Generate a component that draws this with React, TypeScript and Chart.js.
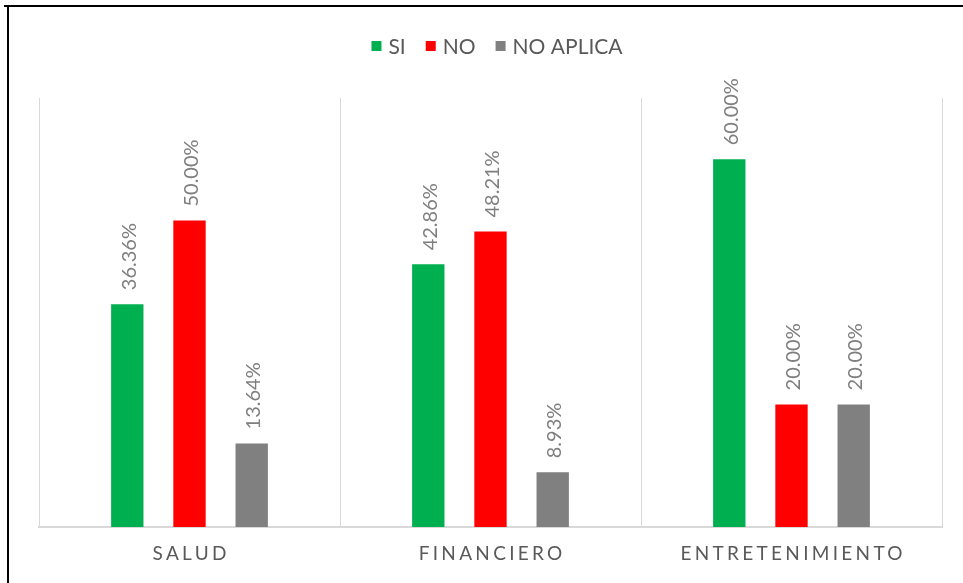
import React, { useEffect, useRef } from "react";
import { Chart, registerables } from "chart.js";

Chart.register(...registerables);

const categories = ["SALUD", "FINANCIERO", "ENTRETENIMIENTO"];
const seriesNames = ["SI", "NO", "NO APLICA"];
const siValues = [36.36, 42.86, 60.0];
const noValues = [50.0, 48.21, 20.0];
const naValues = [13.64, 8.93, 20.0];
const seriesColors = ["#00B050", "#FF0000", "#808080"];
const yMax = 70;

const FONT = "Lato, 'Open Sans', sans-serif";

const decorPlugin = {
  id: "decor",
  afterDraw(chart: any) {
    const ctx = chart.ctx as CanvasRenderingContext2D;
    const area = chart.chartArea;
    ctx.save();
    // outer border (top and left only)
    ctx.fillStyle = "#000000";
    ctx.fillRect(4, 5, 963, 2);
    ctx.fillRect(7, 5, 2, 583);

    // data labels (rotated)
    ctx.font = `20px ${FONT}`;
    ctx.fillStyle = "#7F7F7F";
    chart.data.datasets.forEach((ds: any, di: number) => {
      const meta = chart.getDatasetMeta(di);
      meta.data.forEach((bar: any, i: number) => {
        const v = ds.data[i];
        const txt = v.toFixed(2) + "%";
        ctx.save();
        ctx.translate(bar.x + 1, bar.y - 14);
        ctx.rotate(-Math.PI / 2);
        ctx.textAlign = "left";
        ctx.textBaseline = "middle";
        ctx.fillText(txt, 0, 1);
        ctx.restore();
      });
    });

    // category labels with letter spacing
    const xScale = chart.scales.x;
    const ls = 3.3;
    ctx.font = `19px ${FONT}`;
    ctx.fillStyle = "#595959";
    (ctx as any).letterSpacing = `${ls}px`;
    ctx.textAlign = "left";
    ctx.textBaseline = "middle";
    categories.forEach((c, i) => {
      const cx = xScale.getPixelForValue(i);
      const w = ctx.measureText(c).width - ls;
      ctx.fillText(c, cx - w / 2, area.bottom + 27);
    });
    (ctx as any).letterSpacing = "0px";

    // legend
    ctx.font = `21px ${FONT}`;
    const box = 10;
    const gapBT = 7;
    const gapItems = 20;
    const widths = seriesNames.map((n) => ctx.measureText(n).width);
    const total = widths.reduce((a, b) => a + box + gapBT + b, 0) + gapItems * (seriesNames.length - 1);
    let x = 497 - total / 2;
    const ly = 46;
    seriesNames.forEach((n, i) => {
      ctx.fillStyle = seriesColors[i];
      ctx.fillRect(x, ly - box / 2, box, box);
      x += box + gapBT;
      ctx.fillStyle = "#595959";
      ctx.textBaseline = "middle";
      ctx.fillText(n, x, ly + 1);
      x += widths[i] + gapItems;
    });
    ctx.restore();
  },
};

export default function App() {
  const ref = useRef<HTMLCanvasElement | null>(null);
  useEffect(() => {
    if (!ref.current) return;
    const chart = new Chart(ref.current, {
      type: "bar",
      data: {
        labels: categories,
        datasets: [
          { label: seriesNames[0], data: siValues, backgroundColor: seriesColors[0] },
          { label: seriesNames[1], data: noValues, backgroundColor: seriesColors[1] },
          { label: seriesNames[2], data: naValues, backgroundColor: seriesColors[2] },
        ],
      },
      options: {
        responsive: false,
        animation: false,
        layout: { padding: { left: 39, right: 21, top: 98, bottom: 56 } },
        datasets: {
          bar: { categoryPercentage: 0.62, barPercentage: 0.52 },
        },
        plugins: {
          legend: { display: false },
          title: { display: false },
          tooltip: { enabled: false },
        },
        scales: {
          x: {
            display: true,
            offset: true,
            grid: { display: true, offset: true, color: "#D9D9D9", lineWidth: 1, drawTicks: false },
            border: { display: true, color: "#D9D9D9", width: 2 },
            ticks: { display: false },
          },
          y: {
            display: false,
            min: 0,
            max: yMax,
          },
        },
      },
      plugins: [decorPlugin],
    });
    return () => chart.destroy();
  }, []);
  return (
    <div style={{ position: "fixed", left: 0, top: 0, width: 963, height: 583, background: "#fff" }}>
      <canvas ref={ref} width={963} height={583} style={{ display: "block" }} />
    </div>
  );
}
